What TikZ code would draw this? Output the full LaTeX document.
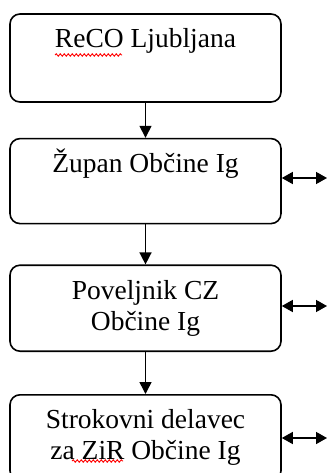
\documentclass[tikz,border=0pt]{standalone}
\usepackage{fontspec}
\setmainfont{Liberation Serif}
\usetikzlibrary{positioning,arrows.meta,decorations.pathmorphing}
\tikzset{
  orgbox/.style={draw,line width=1.6pt,rounded corners=10pt,minimum width=271pt,
    align=center,font=\fontsize{27.5}{31}\selectfont,inner sep=2pt},
  down/.style={line width=1.5pt,-{Triangle[length=12pt,width=12pt]}},
  both/.style={line width=1.5pt,{Triangle[length=11pt,width=12pt]}-{Triangle[length=11pt,width=12pt]}},
  spellmark/.style={red,line width=0.9pt,decorate,decoration={snake,amplitude=1.2pt,segment length=4pt}}
}
\begin{document}
\begin{tikzpicture}[x=1pt,y=-1pt]
\useasboundingbox[fill=white] (0,0) rectangle (328,473);

%boxes
\node[orgbox,minimum height=88pt] (reco) at (145.5,58) {ReCO Ljubljana\\ \strut};
\node[orgbox,minimum height=85pt,below=35pt of reco] (zupan) {Župan Občine Ig\\ \strut};
\node[orgbox,minimum height=86pt,below=40pt of zupan] (poveljnik) {Poveljnik CZ\\Občine Ig};
\node[orgbox,minimum height=86pt,below=42pt of poveljnik] (strokovni) {Strokovni delavec\\za ZiR Občine Ig};

%spelling marks
\draw[spellmark] (55,55) -- (122,55);
\draw[spellmark] (72,461) -- (123,461);

%links down
\draw[down] (reco) -- (zupan);
\draw[down] (zupan) -- (poveljnik);
\draw[down] (poveljnik) -- (strokovni);

%links to the right
\coordinate (zupanR) at (327,178);
\coordinate (poveljnikR) at (327,306);
\coordinate (strokovniR) at (327,438);
\draw[both] (zupan.east |- zupanR) -- (zupanR);
\draw[both] (poveljnik.east |- poveljnikR) -- (poveljnikR);
\draw[both] (strokovni.east |- strokovniR) -- (strokovniR);

\end{tikzpicture}
\end{document}
